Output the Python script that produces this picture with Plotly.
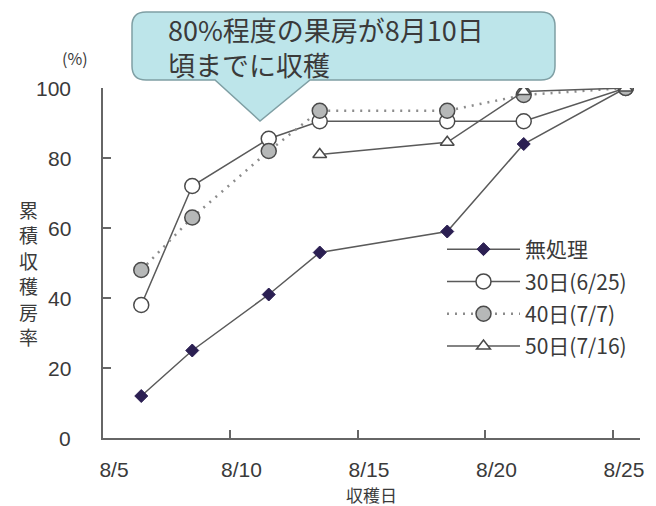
import plotly.graph_objects as go

# Harvest dates (day of August) and cumulative harvested-bunch rate (%)
harvest_days = [6, 8, 11, 13, 18, 21, 25]
untreated = [12, 25, 41, 53, 59, 84, 100]
treat_30 = [38, 72, 85.5, 90.5, 90.5, 90.5, 100]
treat_40 = [48, 63, 82, 93.5, 93.5, 98, 100]
harvest_days_50 = [13, 18, 21, 25]
treat_50 = [81, 84.5, 99, 100]

series_names = ["無処理", "30日(6/25)", "40日(7/7)", "50日(7/16)"]
tick_days = [5, 10, 15, 20, 25]
tick_labels = ["8/5", "8/10", "8/15", "8/20", "8/25"]
y_ticks = [0, 20, 40, 60, 80, 100]
y_title = "累積収穫房率"
x_title = "収穫日"

FONT = "Noto Sans CJK JP, Noto Sans, sans-serif"
NUM_FONT = "Liberation Sans, Arial, sans-serif"
TEXT = "#3a3a3a"
LINE = "#5a5a5a"
AXIS = "#666"


# harvests are plotted at mid-day of the harvest date
def midday(days):
    return [d + 0.5 for d in days]


fig = go.Figure()

fig.add_trace(go.Scatter(
    x=midday(harvest_days), y=untreated, name=series_names[0],
    mode="lines+markers", legendgroup="a",
    line=dict(color=LINE, width=1.5),
    marker=dict(symbol="diamond", size=10, color="#2b1f52",
                line=dict(color="#2b1f52", width=1)),
))
fig.add_trace(go.Scatter(
    x=midday(harvest_days), y=treat_30, name=series_names[1],
    mode="lines+markers", legendgroup="b",
    line=dict(color=LINE, width=1.5),
    marker=dict(symbol="circle", size=15, color="white",
                line=dict(color="#4a4a4a", width=1.5)),
))
fig.add_trace(go.Scatter(
    x=midday(harvest_days), y=treat_40, name=series_names[2],
    mode="lines+markers", legendgroup="c",
    line=dict(color="#8c8c8c", width=2.5, dash="2px,6px"),
    marker=dict(symbol="circle", size=15, color="#b6b8b8",
                line=dict(color="#4a4a4a", width=1.5)),
))
fig.add_trace(go.Scatter(
    x=midday(harvest_days_50), y=treat_50, name=series_names[3],
    mode="lines+markers", legendgroup="d",
    line=dict(color=LINE, width=1.5),
    marker=dict(symbol="triangle-up", size=12, color="white",
                line=dict(color="#4a4a4a", width=1.5)),
))

# plot-area frame in pixels, used to place decorations in paper space
W, H = 656, 506
L, R, T, B = 103, 640, 88, 438


def px(x):
    return (x - L) / (R - L)


def py(y):
    return (B - y) / (B - T)


# speech-bubble callout above the curves
bl, br, bt, bb, r = 132, 555, 12, 80, 14
pts = [
    ("M", bl + r, bt), ("L", br - r, bt), ("Q", br, bt, br, bt + r),
    ("L", br, bb - r), ("Q", br, bb, br - r, bb),
    ("L", 310, bb), ("L", 260, 121), ("L", 215, bb),
    ("L", bl + r, bb), ("Q", bl, bb, bl, bb - r),
    ("L", bl, bt + r), ("Q", bl, bt, bl + r, bt),
]
path = ""
for p in pts:
    cmd, coords = p[0], p[1:]
    xy = []
    for i in range(0, len(coords), 2):
        xy.append(f"{px(coords[i]):.4f},{py(coords[i + 1]):.4f}")
    path += cmd + " ".join(xy) + " "
path += "Z"

fig.add_shape(type="path", path=path, xref="paper", yref="paper",
              fillcolor="#bde5ea", line=dict(color="#7f9fa4", width=1.5),
              layer="below")

fig.add_annotation(
    x=px(166), y=py(47), xref="paper", yref="paper",
    text="80%程度の果房が8月10日<br>頃までに収穫",
    showarrow=False, xanchor="left", yanchor="middle", align="left",
    font=dict(family=FONT, size=27, color=TEXT),
)

fig.add_annotation(
    x=px(75), y=py(58), xref="paper", yref="paper", text="(%)",
    showarrow=False, xanchor="center", yanchor="middle",
    font=dict(family=FONT, size=16, color=TEXT),
)

# value labels, right-aligned and set back from the axis line
for v in y_ticks:
    fig.add_annotation(
        x=px(73), y=v, xref="paper", yref="y", text=str(v),
        showarrow=False, xanchor="right", yanchor="middle",
        font=dict(family=NUM_FONT, size=21, color=TEXT),
    )

# vertical axis title, one character per row
for i, ch in enumerate(y_title):
    fig.add_annotation(
        x=px(28), y=py(209 + i * 25.5), xref="paper", yref="paper",
        text=ch, showarrow=False, xanchor="center", yanchor="middle",
        font=dict(family=FONT, size=19, color=TEXT),
    )

fig.add_annotation(
    x=0.5, y=py(494), xref="paper", yref="paper", text=x_title,
    showarrow=False, xanchor="center", yanchor="middle",
    font=dict(family=FONT, size=17, color=TEXT),
)

fig.update_layout(
    width=W, height=H,
    margin=dict(l=L, r=W - R, t=T, b=H - B, autoexpand=False),
    paper_bgcolor="white", plot_bgcolor="white",
    font=dict(family=FONT, color=TEXT),
    showlegend=True,
    legend=dict(
        x=px(442), y=py(229), xanchor="left", yanchor="top",
        bgcolor="rgba(0,0,0,0)", borderwidth=0,
        font=dict(family=FONT, size=21, color=TEXT),
        itemwidth=73, tracegroupgap=2,
    ),
)

fig.update_xaxes(
    range=[5, 26.06], tickvals=tick_days, ticktext=tick_labels,
    showgrid=False, zeroline=False,
    showline=True, linecolor=AXIS, linewidth=2,
    ticks="inside", ticklen=8, tickwidth=1.5, tickcolor=AXIS,
    ticklabelshift=11, ticklabelstandoff=12,
    tickfont=dict(family=NUM_FONT, size=21, color=TEXT),
)
fig.update_yaxes(
    range=[0, 100], tickvals=y_ticks, showticklabels=False,
    showgrid=False, zeroline=False,
    showline=True, linecolor=AXIS, linewidth=2,
    ticks="inside", ticklen=8, tickwidth=1.5, tickcolor=AXIS,
)

fig.write_html("out.html")
